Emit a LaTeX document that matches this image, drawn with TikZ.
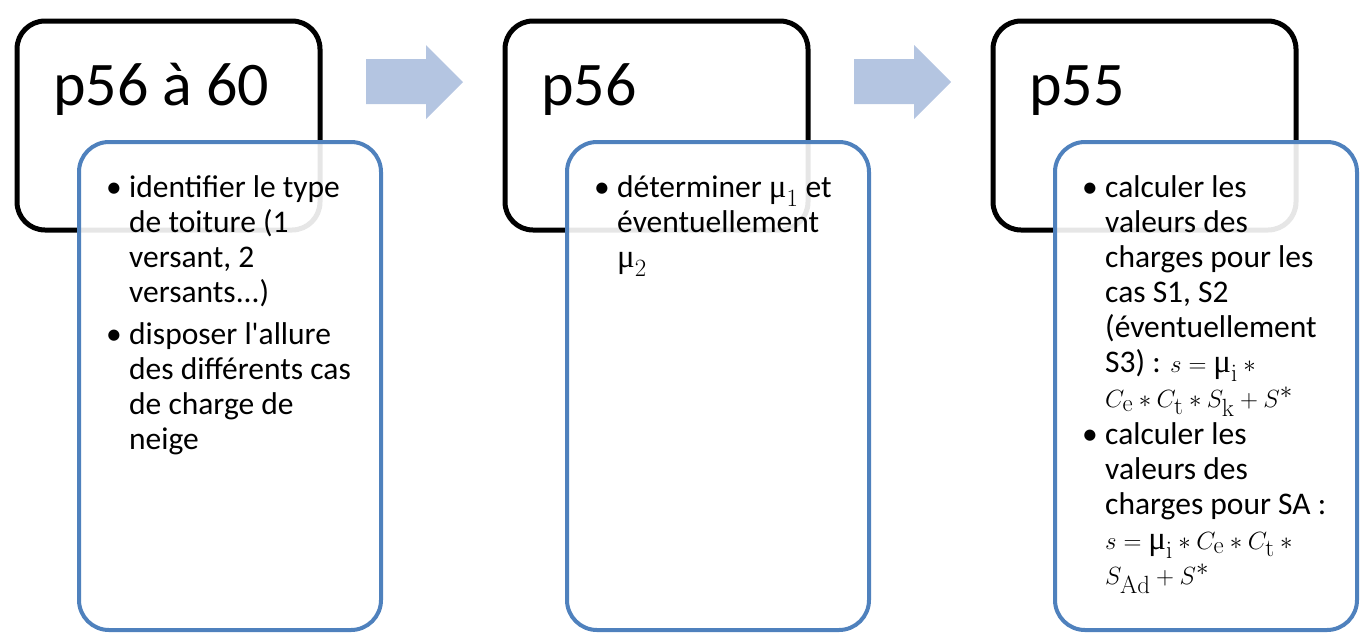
\documentclass[tikz,border=0pt]{standalone}
\usepackage[no-math]{fontspec}
\setmainfont{Carlito}
\newfontfamily\grec{Liberation Serif}
\definecolor{cadrebleu}{RGB}{79,129,189}
\definecolor{flechebleu}{RGB}{180,197,225}
\newcommand\mmu{\mbox{\grec\fontsize{33}{35}\selectfont μ}}
\newcommand\formule[1]{{\fontsize{36}{35}\selectfont$#1$}}

\begin{document}
\begin{tikzpicture}[x=1pt, y=-1pt,
	titre/.style={draw=black, line width=5pt, rounded corners=28pt, minimum width=303pt, minimum height=209pt, inner sep=0pt},
	liste/.style={draw=cadrebleu, line width=4pt, rounded corners=30pt, fill=white, fill opacity=0.9, minimum width=302pt, minimum height=488pt, inner sep=0pt},
	grand/.style={anchor=base west, inner sep=0pt, font=\fontsize{62}{74}\selectfont},
	texte/.style={anchor=north west, inner sep=0pt, font=\fontsize{31.5}{35}\selectfont},
	fleche/.style={fill=flechebleu}]
	\useasboundingbox (0,0) rectangle (1366,641);
	
	\node[titre] (t1) at (168.5,125.5) {};
	\node[titre] (t2) at (656.5,125.5) {};
	\node[titre] (t3) at (1144.5,125.5) {};
	
	\node[grand] (p1) at (53,105) {p56 à 60};
	\node[grand] (p2) at (541,105) {p56};
	\node[grand] (p3) at (1029,105) {p55};
	
	\foreach \dx in {0,488}
	\fill[fleche] ({366+\dx},59) -- ({426+\dx},59) -- ({426+\dx},45) -- ({463+\dx},82) -- ({426+\dx},119) -- ({426+\dx},104) -- ({366+\dx},104) -- cycle;
	
	\node[liste] (b1) at (230,386) {};
	\node[liste] (b2) at (718,386) {};
	\node[liste] (b3) at (1206,386) {};
	
	\node[texte] (l1) at (106,173) {\begin{tabular}{@{}p{23pt}@{}l@{}}
		\textbullet & identifier le type\\
		& de toiture (1\\
		& versant, 2\\
		& versants...)\\[7pt]
		\textbullet & disposer l\textquotesingle allure\\
		& des différents cas\\
		& de charge de\\
		& neige
	\end{tabular}};
	\node[texte] (l2) at (594,173) {\begin{tabular}{@{}p{23pt}@{}l@{}}
		\textbullet & déterminer \formule{\mmu_{1}} et\\
		& éventuellement\\
		& \formule{\mmu_{2}}
	\end{tabular}};
	\node[texte] (l3) at (1082,173) {\begin{tabular}{@{}p{23pt}@{}l@{}}
		\textbullet & calculer les\\
		& valeurs des\\
		& charges pour les\\
		& cas S1, S2\\
		& (éventuellement\\
		& S3) : \formule{s=\mmu_{\mathrm{i}}\ast{}}\\
		& \formule{C_{\mathrm{e}}\ast C_{\mathrm{t}}\ast S_{\mathrm{k}}+S^{\ast}}\\[2pt]
		\textbullet & calculer les\\
		& valeurs des\\
		& charges pour SA :\\
		& \formule{s=\mmu_{\mathrm{i}}\ast C_{\mathrm{e}}\ast C_{\mathrm{t}}\ast{}}\\
		& \formule{S_{\mathrm{Ad}}+S^{\ast}}
	\end{tabular}};
	
\end{tikzpicture}
\end{document}
